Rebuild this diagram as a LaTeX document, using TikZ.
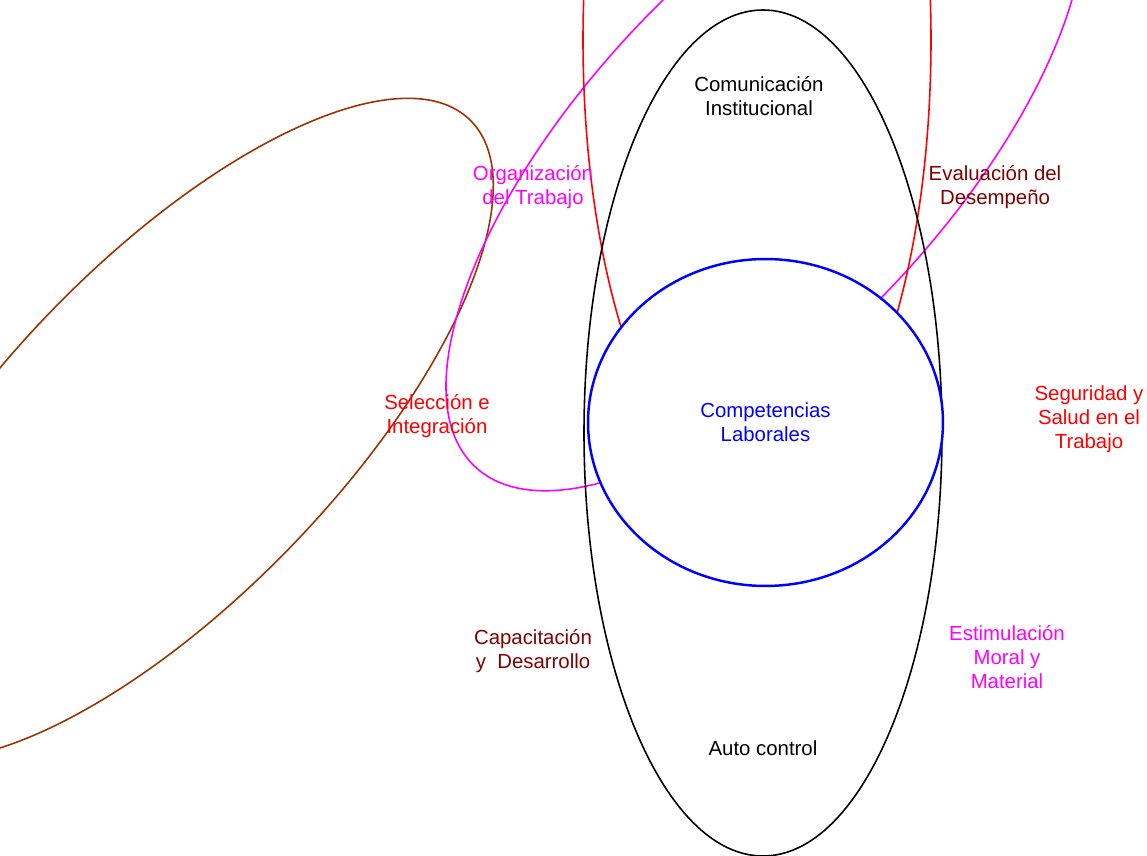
\documentclass[tikz,border=0pt]{standalone}
\usepackage{fontspec}
\setmainfont{Liberation Sans}
\usetikzlibrary{shapes.geometric}
\definecolor{rust}{RGB}{153,51,0}
\definecolor{maroon}{RGB}{128,0,0}
\definecolor{fuchsia}{RGB}{255,0,255}
\definecolor{scarlet}{RGB}{255,0,0}
\definecolor{royal}{RGB}{0,0,255}
\tikzstyle{ring}=[line width=0.9pt]
\tikzstyle{textlabel}=[align=center, font=\fontsize{11.6}{13.6}\selectfont]

\begin{document}
\begin{tikzpicture}[x=0.02cm,y=0.02cm]
  \useasboundingbox (0,0) rectangle (1147,856);
  \clip (0,0) rectangle (1147,856);
  %% Rings
  \draw[ring, rust, rotate around={46:(171,427)}] (171,427) ellipse (430 and 168);
  \draw[ring, fuchsia, rotate around={47:(765,700)}] (765,700) ellipse (425 and 182);
  \draw[ring, scarlet] (757,816) ellipse (174 and 460);
  \draw[ring, black] (763,423) ellipse (179 and 423);
  \draw (765.5,433.5) node[ellipse, draw=royal, line width=1.4pt, fill=white, minimum width=7.1cm, minimum height=6.54cm, textlabel, text=royal] (competencias) {Competencias\\Laborales};

  %% Labels
  \draw (759,760) node[textlabel] (comunicacion) {Comunicación\\Institucional};
  \draw (533,669) node[textlabel, text=fuchsia] (organizacion) {Organización\\del Trabajo};
  \draw (995,669) node[textlabel, text=maroon] (evaluacion) {Evaluación del\\Desempeño};
  \draw (437,440) node[textlabel, text=scarlet] (seleccion) {Selección e\\Integración};
  \draw (1089,437) node[textlabel, text=scarlet] (seguridad) {Seguridad y\\Salud en el\\Trabajo};
  \draw (533,205) node[textlabel, text=maroon] (capacitacion) {Capacitación\\y\ \ Desarrollo};
  \draw (1007,199) node[textlabel, text=fuchsia] (estimulacion) {Estimulación\\Moral y\\Material};
  \draw (763,108) node[textlabel] (autocontrol) {Auto control};
\end{tikzpicture}
\end{document}
